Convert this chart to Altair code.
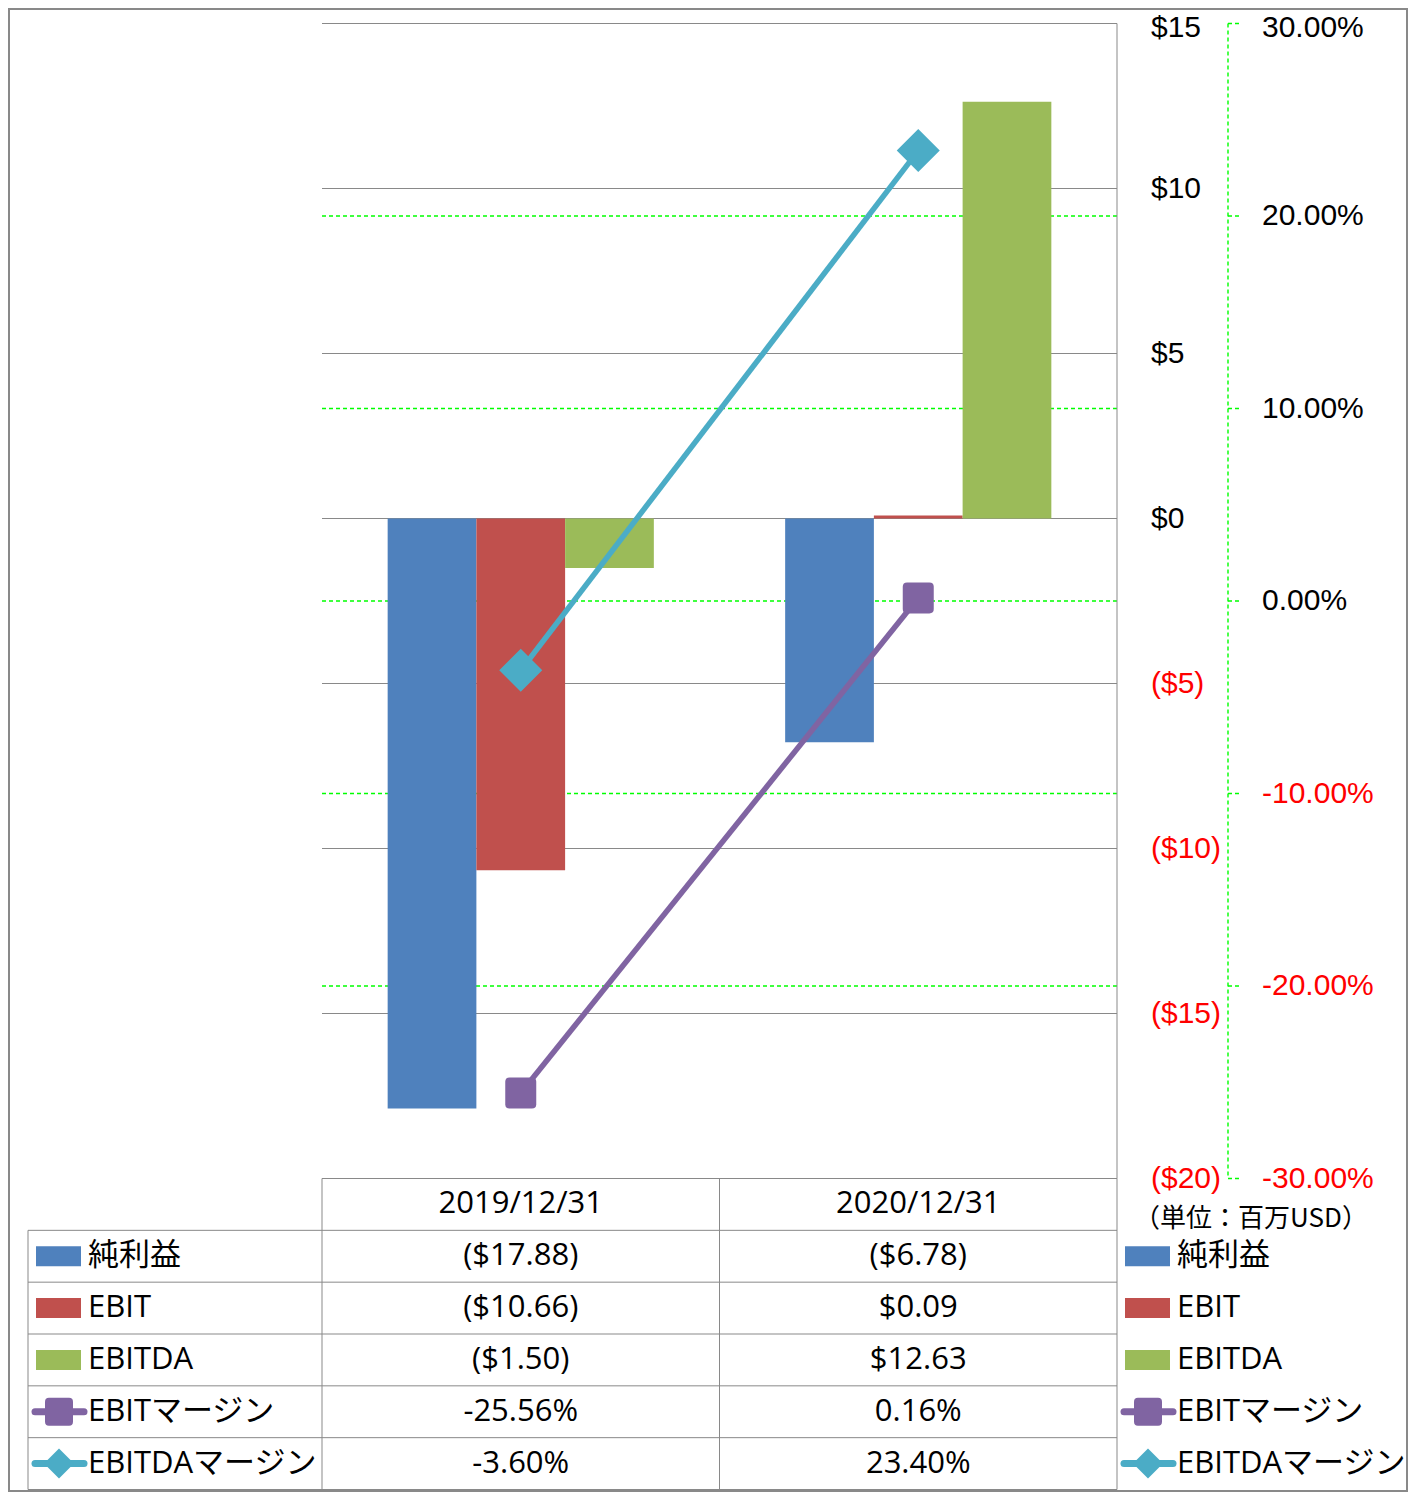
import altair as alt
import pandas as pd

# ---------------- data ----------------
dates = ["2019/12/31", "2020/12/31"]
bar_series = ["純利益", "EBIT", "EBITDA"]
line_series = ["EBITマージン", "EBITDAマージン"]
net_income = [-17.88, -6.78]
ebit = [-10.66, 0.09]
ebitda = [-1.50, 12.63]
ebit_margin = [-0.2556, 0.0016]
ebitda_margin = [-0.0360, 0.2340]
bar_colors = ["#4F81BD", "#C0504D", "#9BBB59"]
line_colors = ["#8064A2", "#4BACC6"]

usd_ticks = [15, 10, 5, 0, -5, -10, -15, -20]
usd_tick_labels = ["$15", "$10", "$5", "$0", "($5)", "($10)", "($15)", "($20)"]
pct_ticks = [0.30, 0.20, 0.10, 0.0, -0.10, -0.20, -0.30]
pct_tick_labels = ["30.00%", "20.00%", "10.00%", "0.00%", "-10.00%", "-20.00%", "-30.00%"]
unit_label = "（単位：百万USD）"

# ---------------- helpers ----------------
W, H = 1400, 1484
FONT = "'Open Sans', 'Noto Sans CJK JP', sans-serif"
AXFONT = "'Liberation Sans', 'Open Sans', sans-serif"
GRAY = "#898989"
GREEN = "#00FF00"
LEG_DX = 1089

PLOT_TOP, PLOT_BOTTOM, TABLE_BOTTOM = 15.5, 1170.5, 1481.5

x_scale = alt.Scale(domain=dates, range=[314, 1109], paddingInner=0, paddingOuter=0)
usd_scale = alt.Scale(domain=[-20, 15], range=[PLOT_BOTTOM, PLOT_TOP], nice=False)
pct_scale = alt.Scale(domain=[-0.3, 0.3], range=[PLOT_BOTTOM, PLOT_TOP], nice=False, zero=False)
row_scale = alt.Scale(domain=[-1, 5], range=[PLOT_BOTTOM, TABLE_BOTTOM], nice=False, zero=False)


def X(**kw):
    return alt.X("date:N", scale=x_scale, axis=None, **kw)


def fmt_usd(v):
    return f"(${abs(v):.2f})" if v < 0 else f"${v:.2f}"


def fmt_pct(v):
    return f"{v * 100:.2f}%"


bars_df = pd.DataFrame(
    [
        {"date": d, "series": s, "value": v}
        for s, vals in zip(bar_series, [net_income, ebit, ebitda])
        for d, v in zip(dates, vals)
    ]
)

all_series = bar_series + line_series
all_vals = [net_income, ebit, ebitda, ebit_margin, ebitda_margin]
all_fmt = [fmt_usd, fmt_usd, fmt_usd, fmt_pct, fmt_pct]
all_colors = bar_colors + line_colors

table_df = pd.DataFrame(
    [
        {"date": d, "row": i + 0.5, "label": f(v)}
        for i, (vals, f) in enumerate(zip(all_vals, all_fmt))
        for d, v in zip(dates, vals)
    ]
)
rows_df = pd.DataFrame(
    {"series": all_series, "row": [i + 0.5 for i in range(5)], "color": all_colors}
)
bar_rows_df = rows_df.iloc[:3]
line_rows_df = rows_df.iloc[3:]

RECT = "M-1,-0.444L1,-0.444L1,0.444L-1,0.444Z"
RSQ = ("M-0.72,-1L0.72,-1Q1,-1 1,-0.72L1,0.72Q1,1 0.72,1L-0.72,1Q-1,1 -1,0.72"
       "L-1,-0.72Q-1,-1 -0.72,-1Z")

layers = []

# ---- gridlines ($ solid grey, % green dashed) ----
layers.append(
    alt.Chart(pd.DataFrame({"v": usd_ticks}))
    .mark_rule(color=GRAY, strokeWidth=1)
    .encode(y=alt.Y("v:Q", scale=usd_scale, axis=None), x=alt.value(314), x2=alt.value(1109))
)
layers.append(
    alt.Chart(pd.DataFrame({"v": pct_ticks[1:-1]}))
    .mark_rule(color=GREEN, strokeWidth=1.4, strokeDash=[4, 3])
    .encode(y=alt.Y("v:Q", scale=pct_scale, axis=None), x=alt.value(314), x2=alt.value(1109))
)
# right border of plot area
layers.append(
    alt.Chart(pd.DataFrame({"date": [dates[-1]], "a": [15], "b": [-20]}))
    .mark_rule(color=GRAY, strokeWidth=1)
    .encode(x=X(bandPosition=1), y=alt.Y("a:Q", scale=usd_scale, axis=None), y2="b:Q")
)

# ---- bars ----
layers.append(
    alt.Chart(bars_df)
    .mark_bar()
    .encode(
        x=X(),
        xOffset=alt.XOffset(
            "series:N",
            scale=alt.Scale(domain=bar_series, paddingInner=0, paddingOuter=0.74),
        ),
        y=alt.Y("value:Q", scale=usd_scale, axis=None),
        color=alt.Color("series:N", scale=alt.Scale(domain=bar_series, range=bar_colors), legend=None),
    )
)

# ---- margin lines ----
for vals, col, shape, size in [
    (ebit_margin, line_colors[0], RSQ, 961),
    (ebitda_margin, line_colors[1], "diamond", 1850),
]:
    df = pd.DataFrame({"date": dates, "value": vals})
    base = alt.Chart(df).encode(x=X(), y=alt.Y("value:Q", scale=pct_scale, axis=None))
    layers.append(base.mark_line(color=col, strokeWidth=5.5))
    layers.append(base.mark_point(shape=shape, filled=True, size=size, color=col, opacity=1))

# ---- secondary axis line + ticks ----
layers.append(
    alt.Chart(pd.DataFrame({"a": [0.3], "b": [-0.3]}))
    .mark_rule(color=GREEN, strokeWidth=1.4, strokeDash=[4, 3])
    .encode(x=alt.value(1220), y=alt.Y("a:Q", scale=pct_scale, axis=None), y2="b:Q")
)
layers.append(
    alt.Chart(pd.DataFrame({"v": pct_ticks}))
    .mark_rule(color=GREEN, strokeWidth=1.4, strokeDash=[4, 3])
    .encode(y=alt.Y("v:Q", scale=pct_scale, axis=None), x=alt.value(1220), x2=alt.value(1233))
)

# ---- tick labels (the topmost pair nudged down so it stays inside the canvas) ----
usd_lab_df = pd.DataFrame({"v": usd_ticks, "t": usd_tick_labels})
pct_lab_df = pd.DataFrame({"v": pct_ticks, "t": pct_tick_labels})
for df, scale, xpos, top in [
    (usd_lab_df, usd_scale, 1143, 15),
    (pct_lab_df, pct_scale, 1254, 0.3),
]:
    for cond, dy in [(f"datum.v < {top}", 0), (f"datum.v >= {top}", 4)]:
        layers.append(
            alt.Chart(df)
            .transform_filter(cond)
            .mark_text(align="left", baseline="middle", font=AXFONT, fontSize=30, dy=dy)
            .encode(
                y=alt.Y("v:Q", scale=scale, axis=None),
                x=alt.value(xpos),
                text="t:N",
                color=alt.condition("datum.v < 0", alt.value("#FF0000"), alt.value("#000000")),
            )
        )

layers.append(
    alt.Chart(pd.DataFrame({"t": [unit_label]}))
    .mark_text(align="center", baseline="middle", font="'Noto Sans CJK JP', sans-serif", fontSize=26)
    .encode(x=alt.value(1243), y=alt.value(1211), text="t:N", color=alt.value("#000000"))
)

# ---- data table lines ----
layers.append(
    alt.Chart(pd.DataFrame({"r": [0, 1, 2, 3, 4, 5]}))
    .mark_rule(color=GRAY, strokeWidth=1)
    .encode(y=alt.Y("r:Q", scale=row_scale, axis=None), x=alt.value(20), x2=alt.value(1109))
)
layers.append(
    alt.Chart(pd.DataFrame({"date": dates, "a": [-1, -1], "b": [5, 5]}))
    .mark_rule(color=GRAY, strokeWidth=1)
    .encode(x=X(bandPosition=0), y=alt.Y("a:Q", scale=row_scale, axis=None), y2="b:Q")
)
layers.append(
    alt.Chart(pd.DataFrame({"date": [dates[-1]], "a": [-1], "b": [5]}))
    .mark_rule(color=GRAY, strokeWidth=1)
    .encode(x=X(bandPosition=1), y=alt.Y("a:Q", scale=row_scale, axis=None), y2="b:Q")
)
layers.append(
    alt.Chart(pd.DataFrame({"a": [0], "b": [5]}))
    .mark_rule(color=GRAY, strokeWidth=1)
    .encode(x=alt.value(20), y=alt.Y("a:Q", scale=row_scale, axis=None), y2="b:Q")
)

# ---- data table text ----
layers.append(
    alt.Chart(pd.DataFrame({"date": dates, "r": [-0.5, -0.5]}))
    .mark_text(align="center", baseline="middle", font=FONT, fontSize=31, color="#000000")
    .encode(x=X(), y=alt.Y("r:Q", scale=row_scale, axis=None), text="date:N")
)
layers.append(
    alt.Chart(table_df)
    .mark_text(align="center", baseline="middle", font=FONT, fontSize=31, color="#000000")
    .encode(x=X(), y=alt.Y("row:Q", scale=row_scale, axis=None), text="label:N")
)

# ---- legend keys: in the table and at the right ----
for dx in [0, LEG_DX]:
    layers.append(
        alt.Chart(rows_df)
        .mark_text(align="left", baseline="middle", font=FONT, fontSize=31, color="#000000")
        .encode(x=alt.value(80 + dx), y=alt.Y("row:Q", scale=row_scale, axis=None), text="series:N")
    )
    layers.append(
        alt.Chart(bar_rows_df)
        .mark_point(shape=RECT, filled=True, size=2025, opacity=1)
        .encode(
            x=alt.value(50.5 + dx),
            y=alt.Y("row:Q", scale=row_scale, axis=None),
            color=alt.Color("color:N", scale=None),
        )
    )
    layers.append(
        alt.Chart(line_rows_df)
        .mark_rule(strokeWidth=7, strokeCap="round")
        .encode(
            x=alt.value(27 + dx),
            x2=alt.value(76 + dx),
            y=alt.Y("row:Q", scale=row_scale, axis=None),
            color=alt.Color("color:N", scale=None),
        )
    )
    for i, (shape, size) in enumerate([(RSQ, 784), ("diamond", 900)]):
        layers.append(
            alt.Chart(line_rows_df.iloc[[i]])
            .mark_point(shape=shape, filled=True, size=size, opacity=1)
            .encode(
                x=alt.value(51 + dx),
                y=alt.Y("row:Q", scale=row_scale, axis=None),
                color=alt.Color("color:N", scale=None),
            )
        )

chart = (
    alt.layer(*layers)
    .resolve_scale(y="independent", color="independent")
    .properties(
        width=W,
        height=H,
        autosize=alt.AutoSizeParams(type="none"),
        padding=0,
        background="white",
    )
    .configure_view(stroke=GRAY, strokeWidth=4)
)

chart.save("out.html", embed_options={"renderer": "svg", "actions": False})
